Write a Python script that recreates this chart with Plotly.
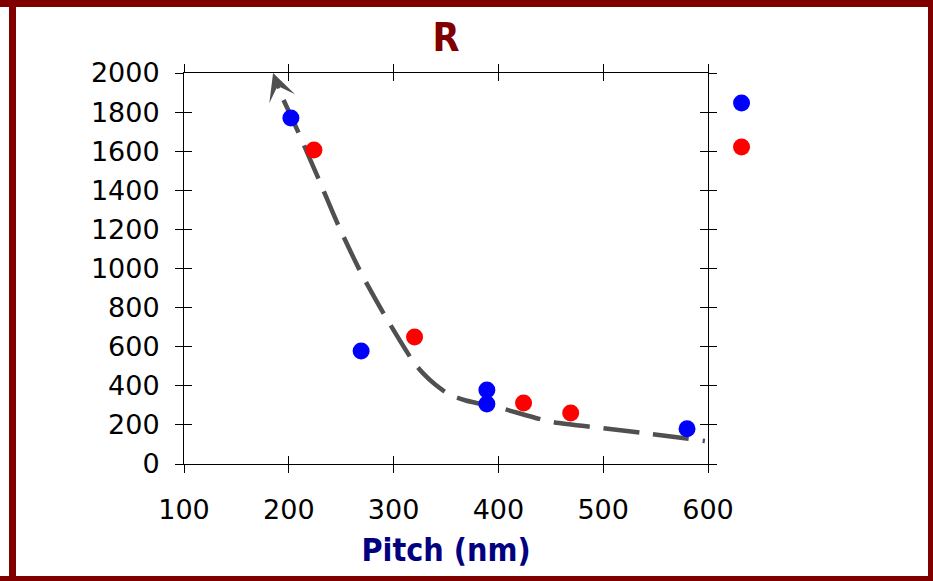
import plotly.graph_objects as go

# ---- data ----
blue_x = [202, 269, 389, 389, 580]
blue_y = [1770, 578, 378, 307, 180]
red_x = [224, 320, 424, 469]
red_y = [1606, 650, 312, 261]
key_x = [632, 632]
key_y = [1847, 1622]
key_colors = ["#0000ff", "#ff0000"]
line_x = [185, 195, 209, 228, 248, 269, 293, 319, 328, 340, 354, 369, 402, 451, 499, 546, 597]
line_y = [2000, 1862, 1698, 1463, 1212, 977, 747, 522, 465, 405, 353, 325, 286, 215, 184, 153, 118]
x_ticks = [100, 200, 300, 400, 500, 600]
y_ticks = [0, 200, 400, 600, 800, 1000, 1200, 1400, 1600, 1800, 2000]
x_range = [100, 600]
y_range = [0, 2000]

W, H = 933, 581
PL, PR, PT, PB = 184, 708, 73, 464   # plot area in pixels
DARKRED = "#800000"


def fx(p):
    return p / W


def fy(p):
    return 1 - p / H


# extended x range for the key axis (same scale as main axis)
KEY_R = 765
x_key_range = [x_range[0], x_range[0] + (x_range[1] - x_range[0]) * (KEY_R - PL) / (PR - PL)]

fig = go.Figure()

fig.add_trace(go.Scatter(
    x=line_x[1:], y=line_y[1:], mode="lines",
    line=dict(color="#505050", width=4.5, dash="36px,14px", shape="spline", smoothing=0.7),
    hoverinfo="skip", showlegend=False))

fig.add_trace(go.Scatter(x=blue_x, y=blue_y, mode="markers",
                         marker=dict(color="#0000ff", size=17), showlegend=False))
fig.add_trace(go.Scatter(x=red_x, y=red_y, mode="markers",
                         marker=dict(color="#ff0000", size=17), showlegend=False))
# inside-tick overlay axes
fig.add_trace(go.Scatter(x=[x_ticks[0]], y=[y_ticks[0]], xaxis="x2", yaxis="y2",
                         mode="markers", marker=dict(opacity=0), showlegend=False, hoverinfo="skip"))
# key markers
fig.add_trace(go.Scatter(x=key_x, y=key_y, xaxis="x3", yaxis="y3", mode="markers",
                         marker=dict(color=key_colors, size=17), showlegend=False))

fig.add_annotation(x=line_x[0], y=line_y[0], xref="x", yref="y", text="",
                   showarrow=True, arrowhead=3, arrowsize=1.3, arrowwidth=3.5,
                   arrowcolor="#505050", ax=6, ay=17)

tickfont = dict(family="DejaVu Sans", size=27, color="black")
xdom = [fx(PL), fx(PR)]
ydom = [fy(PB), fy(PT)]
common = dict(showgrid=False, zeroline=False, showline=True, linecolor="black", linewidth=1,
              ticks="outside", ticklen=8, tickcolor="black", tickwidth=1, mirror="ticks")
inside = dict(showticklabels=False, showgrid=False, zeroline=False, showline=False,
              ticks="inside", ticklen=8, tickcolor="black", tickwidth=1, mirror="ticks")
hidden = dict(visible=False, showgrid=False, zeroline=False)

fig.update_layout(
    width=W, height=H, autosize=False,
    margin=dict(l=0, r=0, t=0, b=0, autoexpand=False),
    paper_bgcolor="white", plot_bgcolor="rgba(0,0,0,0)",
    title=dict(text="<b>R</b>", x=fx(446), xanchor="center", y=1 - 37 / H, yanchor="middle",
               xref="paper", yref="container",
               font=dict(family="DejaVu Sans Condensed", size=39, color=DARKRED)),
    xaxis=dict(domain=xdom, range=x_range, tickvals=x_ticks, ticktext=[str(v) for v in x_ticks],
               tickfont=tickfont, ticklabelstandoff=14, anchor="y",
               title=dict(text="<b>Pitch (nm)</b>", standoff=14,
                          font=dict(family="DejaVu Sans Condensed", size=32, color="#000080")),
               **common),
    yaxis=dict(domain=ydom, range=y_range, tickvals=y_ticks, ticktext=[str(v) for v in y_ticks],
               tickfont=tickfont, ticklabelstandoff=10, anchor="x", **common),
    xaxis2=dict(domain=xdom, range=x_range, overlaying="x", anchor="y2", tickvals=x_ticks, **inside),
    yaxis2=dict(domain=ydom, range=y_range, overlaying="y", anchor="x2", tickvals=y_ticks, **inside),
    xaxis3=dict(domain=[fx(PL), fx(KEY_R)], range=x_key_range, anchor="y3", **hidden),
    yaxis3=dict(domain=ydom, range=y_range, anchor="x3", **hidden),
    showlegend=False,
)

# dark red frame (pixel rectangles)
frame = [
    (0, 0, W, 7),        # top
    (9, 0, 16, H),       # left
    (928, 0, W, H),      # right
    (0, 576, W, H),      # bottom
]
for x0, y0, x1, y1 in frame:
    fig.add_shape(type="rect", xref="paper", yref="paper",
                  x0=fx(x0), x1=fx(x1), y0=fy(y1), y1=fy(y0),
                  fillcolor=DARKRED, line=dict(width=0), layer="above")

fig.write_html("out.html", config={"displayModeBar": False},
               post_script="document.body.style.margin='0';document.body.style.overflow='hidden';")
